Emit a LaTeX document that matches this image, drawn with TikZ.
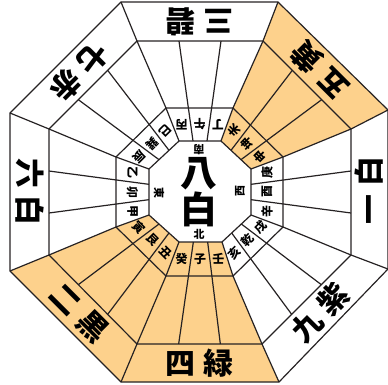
\documentclass[tikz,border=0pt]{standalone}
\usepackage{fontspec}
\newfontfamily\jpfont{Noto Sans CJK JP}
\usetikzlibrary{calc}
\definecolor{kichi}{RGB}{253,209,140}
\definecolor{sumi}{RGB}{38,34,35}

\begin{document}
\begin{tikzpicture}[x=1bp,y=-1bp,line width=1.2bp,
  hoshi/.style={font=\jpfont\bfseries\fontsize{30}{30}\selectfont,inner sep=0pt},
  chuo/.style={font=\jpfont\bfseries\fontsize{37}{37}\selectfont,align=center,inner sep=0pt},
  yama/.style={font=\jpfont\bfseries\fontsize{12}{12}\selectfont,inner sep=0pt},
  hogaku/.style={font=\jpfont\bfseries\fontsize{11}{11}\selectfont,inner sep=0pt}]
\useasboundingbox (0,0) rectangle (388,385);
% corners of the four rings, clockwise from top left
\foreach \k/\x/\y in {1/121/2,2/278/2,3/388/110,4/388/269,5/279/382,6/121/382,7/10/271,8/10/113}
  \coordinate (o\k) at (\x,\y);
\foreach \k/\x/\y in {1/137/41,2/263/41,3/351/129,4/351/255,5/262/344,6/137/344,7/49/255,8/49/129}
  \coordinate (a\k) at (\x,\y);
\foreach \k/\x/\y in {1/166/108,2/233/108,3/283/157,4/283/227,5/233/276,6/166/276,7/116/227,8/116/157}
  \coordinate (b\k) at (\x,\y);
\foreach \k/\x/\y in {1/179/141,2/221/141,3/251/169,4/251/215,5/222/242,6/179/242,7/149/215,8/149/169}
  \coordinate (c\k) at (\x,\y);
\foreach \r in {o,a,b,c}
  \coordinate (\r9) at (\r1);

% lucky sectors
\foreach \i/\j in {2/3,5/6,6/7}
  \fill[kichi] (o\i)--(o\j)--(a\j)--(b\j)--(c\j)--(c\i)--(b\i)--(a\i)--cycle;

\begin{scope}[draw=sumi]
\foreach \r in {o,a,b,c}
  \draw (\r1)--(\r2)--(\r3)--(\r4)--(\r5)--(\r6)--(\r7)--(\r8)--cycle;
\foreach \i/\j in {1/2,2/3,3/4,4/5,5/6,6/7,7/8,8/9}{
  \draw (o\i)--(a\i)--(b\i)--(c\i);
  \draw ($(a\i)!1/3!(a\j)$)--($(c\i)!1/3!(c\j)$);
  \draw ($(a\i)!2/3!(a\j)$)--($(c\i)!2/3!(c\j)$);
}
\end{scope}

% stars and the 24 mountains
\foreach \i/\j/\r/\p/\q/\ya/\yb/\yc in {1/2/180/三/碧/丙/午/丁,2/3/135/五/黄/未/坤/申,
    3/4/90/一/白/庚/酉/辛,4/5/45/九/紫/戌/乾/亥,5/6/0/四/緑/壬/子/癸,
    6/7/-45/二/黒/丑/艮/寅,7/8/-90/六/白/甲/卯/乙,8/9/-135/七/赤/辰/巽/巳}{
  \node[hoshi,rotate=\r] (hoshi\i) at ($($(o\i)!.5!(o\j)$)!.5!($(a\i)!.5!(a\j)$)$) {\p\hspace{8bp}\q};
  \node[yama,rotate=\r] (yama\i a) at ($($(c\i)!1/6!(c\j)$)!.5!($(b\i)!1/6!(b\j)$)$) {\ya};
  \node[yama,rotate=\r] (yama\i b) at ($($(c\i)!1/2!(c\j)$)!.5!($(b\i)!1/2!(b\j)$)$) {\yb};
  \node[yama,rotate=\r] (yama\i c) at ($($(c\i)!5/6!(c\j)$)!.5!($(b\i)!5/6!(b\j)$)$) {\yc};
}

\node[chuo] (hachi) at (199,192) {八\\白};
\node[hogaku,rotate=180] (minami) at (199,150) {南};
\node[hogaku,rotate=90] (nishi) at (240,191) {西};
\node[hogaku] (kita) at (199,234) {北};
\node[hogaku,rotate=-90] (higashi) at (159,193) {東};
\end{tikzpicture}
\end{document}
